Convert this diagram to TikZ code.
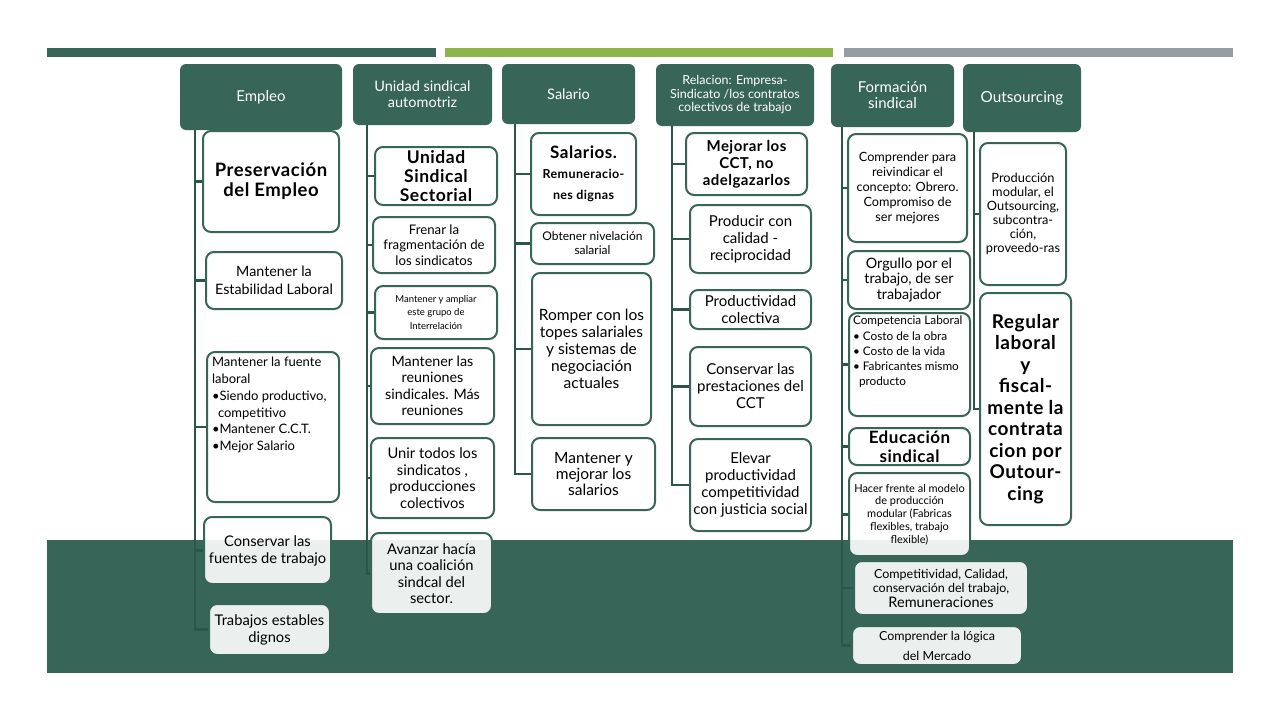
\documentclass[tikz,border=0pt]{standalone}
\usepackage{fontspec}
\setmainfont{Lato}[BoldFeatures={LetterSpace=3.0}]
\usetikzlibrary{backgrounds}
\definecolor{dkgreen}{RGB}{55,101,88}
\definecolor{barlime}{RGB}{141,181,76}
\definecolor{bargray}{RGB}{149,156,164}
\definecolor{linegreen}{RGB}{44,86,74}
\newcommand{\fs}[2]{\fontsize{#1}{#2}\selectfont}

\begin{document}
\begin{tikzpicture}[
  x=1pt, y=-1pt,
  head/.style={rectangle, rounded corners=6pt, fill=dkgreen, text=white, align=center, inner sep=2pt},
  leaf/.style={rectangle, rounded corners=8pt, draw=dkgreen, line width=2pt, fill=white, fill opacity=0.9, text opacity=1, align=center, inner sep=2pt},
  wh/.style 2 args={minimum width=#1, minimum height=#2},
  link/.style={draw=linegreen, line width=2.5pt},
  font=\fs{14.3}{16.5}
]
\useasboundingbox (0,0) rectangle (1280,720);

% bars and band
\begin{scope}[on background layer]
\fill[dkgreen] (47,48) rectangle (436,57);
\fill[barlime] (445,48) rectangle (833,57);
\fill[bargray] (844,48) rectangle (1233,57);
\fill[dkgreen] (47,540) rectangle (1233,673);
\end{scope}

% Empleo
\node[head, wh={162pt}{66pt}, font=\fs{15}{17}] (empleo) at (261,97) {Empleo};
\node[leaf, wh={136pt}{101pt}, font=\bfseries\fs{18.5}{20}] (e1) at (271,181.5) {Preservación\\del Empleo};
\node[leaf, wh={136pt}{57pt}, font=\fs{14.3}{18}] (e2) at (274,280.5) {Mantener la\\Estabilidad Laboral};
\node[leaf, wh={132pt}{150pt}, inner xsep=5pt, font=\fs{13}{16.5}] (e3) at (273,427) {\parbox[c][140pt][t]{122pt}{\raggedright
  Mantener la fuente\\laboral\\[1pt]
  \textbullet Siendo productivo,\\
  \hspace*{6pt}competitivo\\
  \textbullet Mantener C.C.T.\\
  \textbullet Mejor Salario}};
\node[leaf, wh={127pt}{67pt}, font=\fs{14.7}{17}] (e4) at (267.5,550.5) {Conservar las\\fuentes de trabajo};
\node[leaf, wh={121pt}{51pt}, font=\fs{14.7}{17}] (e5) at (269.5,629.5) {Trabajos estables\\dignos};

% Unidad sindical
\node[head, wh={139pt}{61pt}, font=\fs{14.5}{16}] (unidad) at (422.5,94.5) {Unidad sindical\\automotriz};
\node[leaf, wh={122pt}{58pt}, font=\bfseries\fs{17.5}{19}] (u1) at (436,176) {Unidad\\Sindical\\Sectorial};
\node[leaf, wh={122pt}{56pt}, font=\fs{13.2}{15.5}] (u2) at (434,245) {Frenar la\\fragmentación de\\los sindicatos};
\node[leaf, wh={122pt}{53pt}, font=\fs{9.5}{13.5}] (u3) at (436,312.5) {Mantener y ampliar\\este grupo de\\Interrelación};
\node[leaf, wh={123pt}{76pt}] (u4) at (432.5,386) {Mantener las\\reuniones\\sindicales. Más\\reuniones};
\node[leaf, wh={123pt}{80pt}, font=\fs{14.7}{16.5}] (u5) at (432.5,478) {Unir todos los\\sindicatos ,\\producciones\\colectivos};
\node[leaf, wh={121pt}{81pt}, font=\fs{14.7}{16.5}] (u6) at (431.5,573.5) {Avanzar hacía\\una coalición\\sindcal del\\sector.};

% Salario
\node[head, wh={133pt}{60pt}, font=\fs{14.5}{16}] (salario) at (568.5,94) {Salario};
\node[leaf, wh={105pt}{82pt}, font=\bfseries\fs{12.5}{15}] (s1) at (583.5,174) {{\fs{17}{19}Salarios.}\\[5pt]Remuneracio-\\[6pt]nes dignas};
\node[leaf, wh={123pt}{41pt}, font=\fs{12}{14}] (s2) at (592.5,243.5) {Obtener nivelación\\salarial};
\node[leaf, wh={119pt}{152pt}, font=\fs{15.5}{17}] (s3) at (591.5,349) {Romper con los\\topes salariales\\y sistemas de\\negociación\\actuales};
\node[leaf, wh={123pt}{72pt}, font=\fs{15.5}{16}] (s4) at (593.5,474) {Mantener y\\mejorar los\\salarios};

% Relacion empresa-sindicato
\node[head, wh={158pt}{62pt}, font=\fs{12.5}{13.5}] (relacion) at (735,95) {Relacion: Empresa-\\Sindicato /los contratos\\colectivos de trabajo};
\node[leaf, wh={121pt}{62pt}, font=\bfseries\fs{15}{17}] (r1) at (746.5,164) {Mejorar los\\CCT, no\\adelgazarlos};
\node[leaf, wh={121pt}{68pt}, font=\fs{15}{17}] (r2) at (750.5,239) {Producir con\\calidad -\\reciprocidad};
\node[leaf, wh={121pt}{39pt}, font=\fs{15}{17}] (r3) at (750.5,309.5) {Productividad\\colectiva};
\node[leaf, wh={121pt}{79pt}, font=\fs{15}{17}] (r4) at (750.5,386.5) {Conservar las\\prestaciones del\\CCT};
\node[leaf, wh={121pt}{92pt}, font=\fs{15}{17}] (r5) at (750.5,485) {Elevar\\productividad\\competitividad\\con justicia social};

% Formacion sindical
\node[head, wh={123pt}{63pt}, font=\fs{15}{16}] (formacion) at (892.5,95.5) {Formación\\sindical};
\node[leaf, wh={119pt}{108pt}, font=\fs{12.7}{15}] (f1) at (907.5,188) {Comprender para\\reivindicar el\\concepto: Obrero.\\Compromiso de\\ser mejores};
\node[leaf, wh={122pt}{58pt}, font=\fs{14.3}{15.5}] (f2) at (909,280) {Orgullo por el\\trabajo, de ser\\trabajador};
\node[leaf, wh={121pt}{103pt}, inner xsep=4pt, font=\fs{11.8}{15}] (f3) at (909.5,364.5) {\parbox[c][97pt][t]{113pt}{\raggedright
  Competencia Laboral\\[1pt]
  \textbullet\ Costo de la obra\\
  \textbullet\ Costo de la vida\\
  \textbullet\ Fabricantes mismo\\
  \hspace*{6pt}producto}};
\node[leaf, wh={121pt}{37pt}, font=\bfseries\fs{17}{19}] (f4) at (909.5,446.5) {Educación\\sindical};
\node[leaf, wh={121pt}{83pt}, font=\fs{11}{12.8}] (f5) at (909.5,514.5) {Hacer frente al modelo\\de producción\\modular (Fabricas\\flexibles, trabajo\\flexible)};
\node[leaf, wh={174pt}{54pt}, font=\fs{12.5}{14.5}] (f6) at (941,588) {Competitividad, Calidad,\\conservación del trabajo,\\{\fs{14.5}{15}Remuneraciones}};
\node[leaf, wh={170pt}{39pt}, font=\fs{12.5}{20}] (f7) at (937,645.5) {Comprender la lógica\\del Mercado};

% Outsourcing
\node[head, wh={118pt}{68pt}, font=\fs{15.3}{17}] (outsourcing) at (1022,98) {Outsourcing};
\node[leaf, wh={86pt}{142pt}, font=\fs{12.8}{14}] (o1) at (1023,214) {Producción\\modular, el\\Outsourcing,\\subcontra-\\ción,\\proveedo-ras};
\node[leaf, wh={91pt}{232pt}, font=\bfseries\fs{19}{21.5}] (o2) at (1025.5,409) {Regular\\laboral\\y\\fiscal-\\mente la\\contrata\\cion por\\Outour-\\cing};

% connectors
\coordinate (empleo-top) at ([xshift=15pt]empleo.south west);
\coordinate (unidad-top) at ([xshift=14pt]unidad.south west);
\coordinate (salario-top) at ([xshift=13pt]salario.south west);
\coordinate (relacion-top) at ([xshift=16pt]relacion.south west);
\coordinate (formacion-top) at ([xshift=11pt]formacion.south west);
\coordinate (outsourcing-top) at ([xshift=11pt]outsourcing.south west);

\draw[link] (empleo-top) |- (e5);
\foreach \n in {e1,e2,e3,e4} \draw[link] (empleo-top |- \n) -- (\n);
\draw[link] (unidad-top) |- (u6);
\foreach \n in {u1,u2,u3,u4,u5} \draw[link] (unidad-top |- \n) -- (\n);
\draw[link] (salario-top) |- (s4);
\foreach \n in {s1,s2,s3} \draw[link] (salario-top |- \n) -- (\n);
\draw[link] (relacion-top) |- (r5);
\foreach \n in {r1,r2,r3,r4} \draw[link] (relacion-top |- \n) -- (\n);
\draw[link] (formacion-top) |- (f7);
\foreach \n in {f1,f2,f3,f4,f5,f6} \draw[link] (formacion-top |- \n) -- (\n);
\draw[link] (outsourcing-top) |- (o2);
\draw[link] (outsourcing-top |- o1) -- (o1);
\end{tikzpicture}
\end{document}
